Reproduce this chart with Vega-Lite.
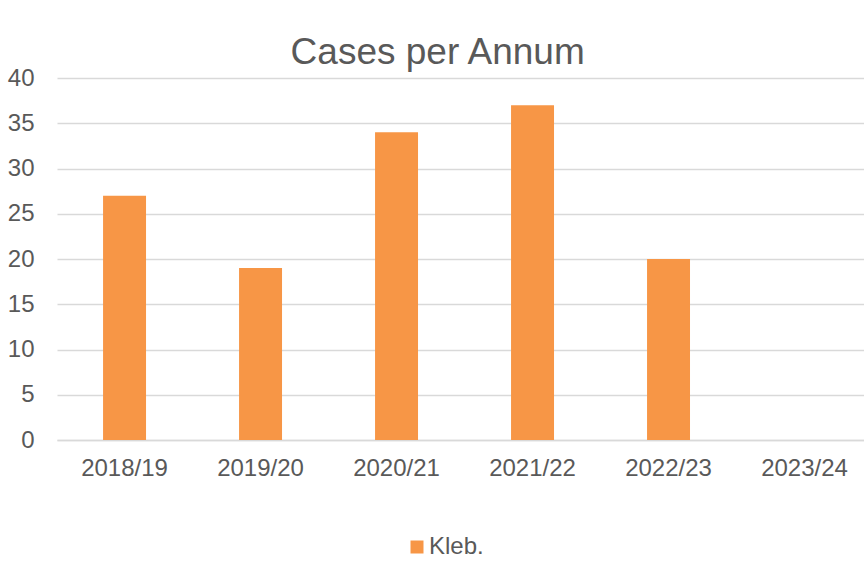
{
  "$schema": "https://vega.github.io/schema/vega-lite/v6.json",
  "autosize": "none",
  "width": 807,
  "height": 362,
  "padding": {"left": 57, "top": 78, "right": 0, "bottom": 134},
  "background": "white",
  "title": {
    "text": "Cases per Annum",
    "font": "Liberation Sans",
    "fontSize": 37,
    "fontWeight": "normal",
    "color": "#595959",
    "anchor": "middle",
    "frame": "bounds",
    "offset": -6,
    "dx": 2
  },
  "data": {
    "values": [
      {"year": "2018/19", "cases": 27, "series": "Kleb."},
      {"year": "2019/20", "cases": 19, "series": "Kleb."},
      {"year": "2020/21", "cases": 34, "series": "Kleb."},
      {"year": "2021/22", "cases": 37, "series": "Kleb."},
      {"year": "2022/23", "cases": 20, "series": "Kleb."},
      {"year": "2023/24", "cases": 0, "series": "Kleb."}
    ]
  },
  "mark": {"type": "bar"},
  "encoding": {
    "x": {
      "field": "year",
      "type": "nominal",
      "sort": null,
      "scale": {"paddingInner": 0.684, "paddingOuter": 0.309, "align": 0.548},
      "axis": {
        "title": null,
        "labelAngle": 0,
        "labelFont": "Liberation Sans",
        "labelFontSize": 24,
        "labelColor": "#595959",
        "labelPadding": 16,
        "ticks": false,
        "domain": true,
        "domainColor": "#d9d9d9",
        "domainWidth": 1.5,
        "grid": false
      }
    },
    "y": {
      "field": "cases",
      "type": "quantitative",
      "scale": {"domain": [0, 40], "nice": false},
      "axis": {
        "title": null,
        "values": [0, 5, 10, 15, 20, 25, 30, 35, 40],
        "labelFont": "Liberation Sans",
        "labelFontSize": 24,
        "labelColor": "#595959",
        "labelPadding": 23,
        "ticks": false,
        "domain": false,
        "grid": true,
        "gridColor": "#d9d9d9",
        "gridWidth": 1.5
      }
    },
    "color": {
      "field": "series",
      "type": "nominal",
      "scale": {"domain": ["Kleb."], "range": ["#F79646"]},
      "legend": {
        "title": null,
        "orient": "none",
        "legendX": 348,
        "legendY": 457,
        "symbolType": "square",
        "symbolSize": 169,
        "symbolStrokeWidth": 0,
        "labelFont": "Liberation Sans",
        "labelFontSize": 24,
        "labelColor": "#595959",
        "labelOffset": 0
      }
    }
  },
  "config": {
    "view": {"stroke": null}
  }
}
